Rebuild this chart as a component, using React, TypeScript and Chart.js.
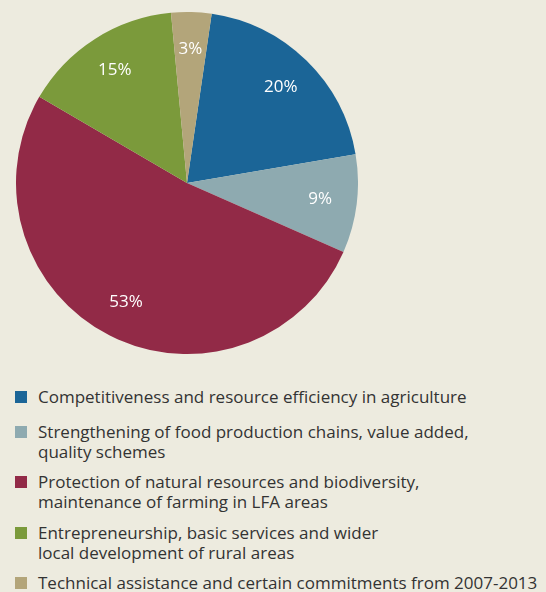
import React, { useEffect, useRef } from "react";
import { Chart, registerables } from "chart.js";

Chart.register(...registerables);

const categories = [
  "Competitiveness and resource efficiency in agriculture",
  "Strengthening of food production chains, value added, quality schemes",
  "Protection of natural resources and biodiversity, maintenance of farming in LFA areas",
  "Entrepreneurship, basic services and wider local development of rural areas",
  "Technical assistance and certain commitments from 2007-2013",
];
const legendLines = [
  ["Competitiveness and resource efficiency in agriculture"],
  ["Strengthening of food production chains, value added,", "quality schemes"],
  ["Protection of natural resources and biodiversity,", "maintenance of farming in LFA areas"],
  ["Entrepreneurship, basic services and wider", "local development of rural areas"],
  ["Technical assistance and certain commitments from 2007-2013"],
];
const shares = [20.0, 9.3, 51.8, 15.1, 3.8];
const shareLabels = ["20%", "9%", "53%", "15%", "3%"];
const colors = ["#1b6597", "#8eaab0", "#922a47", "#7b9a3b", "#b3a57a"];

const BG = "#edebdf";
const FONT = "'Open Sans', 'Liberation Sans', sans-serif";

const sliceLabels = {
  id: "sliceLabels",
  afterDatasetsDraw(chart: any) {
    const ctx = chart.ctx;
    const meta = chart.getDatasetMeta(0);
    ctx.save();
    ctx.fillStyle = "#ffffff";
    ctx.font = `17px ${FONT}`;
    ctx.textAlign = "center";
    ctx.textBaseline = "middle";
    meta.data.forEach((arc: any, i: number) => {
      const p = arc.getProps(["x", "y", "startAngle", "endAngle", "outerRadius"], true);
      const mid = (p.startAngle + p.endAngle) / 2;
      const r = p.outerRadius * 0.785;
      ctx.fillText(shareLabels[i], p.x + Math.cos(mid) * r, p.y + Math.sin(mid) * r);
    });
    ctx.restore();
  },
};

export default function App() {
  const ref = useRef<HTMLCanvasElement | null>(null);
  useEffect(() => {
    document.body.style.margin = "0";
    document.body.style.background = BG;
    const chart = new Chart(ref.current as HTMLCanvasElement, {
      type: "pie",
      data: {
        labels: categories,
        datasets: [
          {
            data: shares,
            backgroundColor: colors,
            borderWidth: 0,
          },
        ],
      },
      options: {
        animation: false,
        responsive: false,
        rotation: 8.3,
        layout: { padding: 0 },
        plugins: {
          legend: { display: false },
          tooltip: { enabled: false },
        },
      },
      plugins: [sliceLabels],
    });
    return () => chart.destroy();
  }, []);

  return (
    <div
      style={{
        position: "relative",
        width: 546,
        height: 592,
        background: BG,
        overflow: "hidden",
        fontFamily: FONT,
      }}
    >
      <canvas
        ref={ref}
        width={342}
        height={342}
        style={{ position: "absolute", left: 16, top: 12, width: 342, height: 342 }}
      />
      <div
        style={{
          position: "absolute",
          left: 15,
          top: 386.5,
          display: "flex",
          flexDirection: "column",
          gap: 10.5,
        }}
      >
        {legendLines.map((lines, i) => (
          <div
            key={i}
            style={{
              display: "flex",
              alignItems: "flex-start",
              marginBottom: i === 0 ? 4.5 : 0,
            }}
          >
            <div
              style={{
                width: 12,
                height: 12,
                background: colors[i],
                marginTop: 4,
                marginRight: 11,
                flex: "none",
              }}
            />
            <div
              style={{
                fontSize: 17,
                lineHeight: "20px",
                color: "#333333",
                whiteSpace: "nowrap",
              }}
            >
              {lines.map((t, j) => (
                <div key={j}>{t}</div>
              ))}
            </div>
          </div>
        ))}
      </div>
    </div>
  );
}
